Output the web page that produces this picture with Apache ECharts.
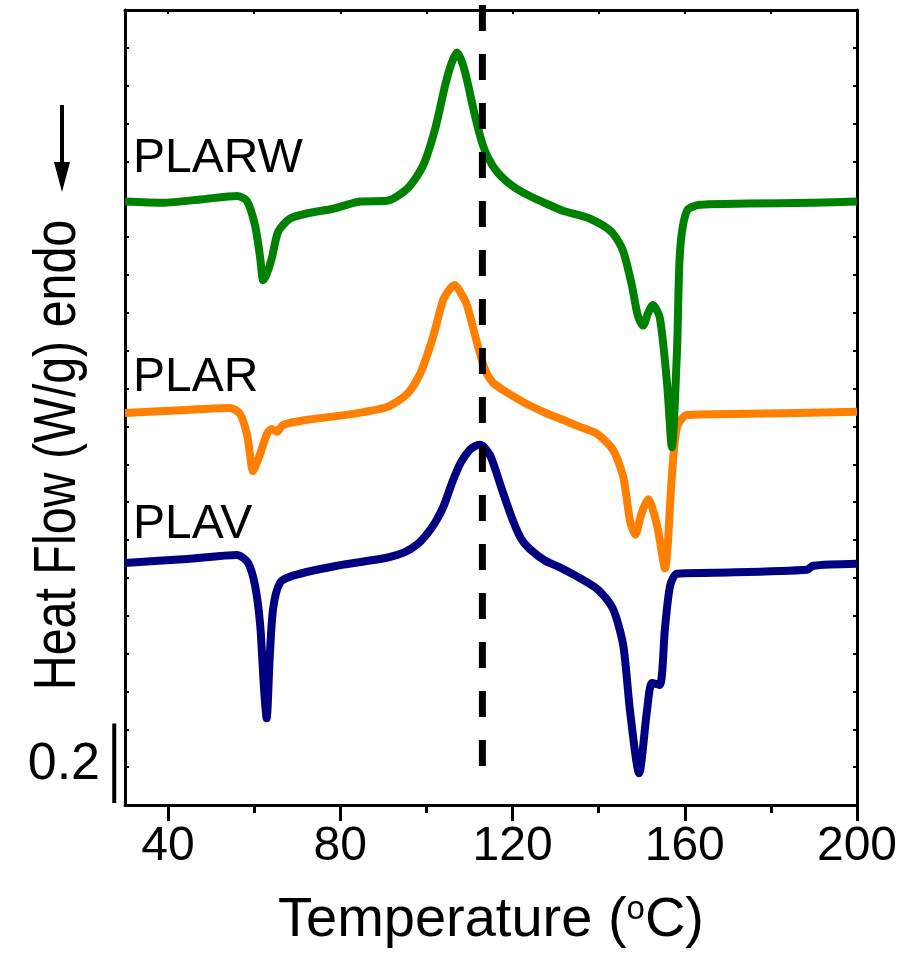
<!DOCTYPE html>
<html>
<head>
<meta charset="utf-8">
<title>DSC heating curves</title>
<script src="https://cdn.jsdelivr.net/npm/echarts@6/dist/echarts.min.js"></script>
<style>
  html, body { margin: 0; padding: 0; background: #fff; }
  #chart { width: 902px; height: 954px; }
</style>
</head>
<body>
<div id="chart"></div>
<script>
// Temperature (ºC) and heat flow (W/g, curves stacked with offsets) for each sample
const plarwTemp = [30, 38.8, 48, 56, 58.3, 60.2, 61.4, 62.1, 63.0, 64.1, 65.6, 68.3, 72.2, 78.3, 84.6, 90.8, 95.5, 99.2, 102, 104.3, 105.8, 107.1, 108.3, 109.4, 111.3, 113.1, 114.5, 116.4, 118.5, 121, 124, 128, 131.7, 135, 138, 141, 143.3, 145.7, 147.7, 149.1, 150.3, 151.5, 152.6, 154.2, 155.9, 157, 158.2, 158.9, 160.5, 163.5, 174.4, 189.8, 200];
const plarwFlow = [1.518, 1.515, 1.524, 1.532, 1.520, 1.458, 1.376, 1.320, 1.338, 1.376, 1.443, 1.475, 1.488, 1.500, 1.518, 1.520, 1.550, 1.608, 1.700, 1.808, 1.865, 1.893, 1.868, 1.825, 1.733, 1.660, 1.625, 1.593, 1.570, 1.550, 1.532, 1.512, 1.495, 1.485, 1.475, 1.458, 1.438, 1.393, 1.308, 1.231, 1.206, 1.238, 1.258, 1.226, 1.059, 0.900, 1.144, 1.393, 1.495, 1.510, 1.513, 1.515, 1.518];

const plarTemp = [30, 44.4, 54.4, 56.7, 58.3, 59.0, 59.7, 60.5, 61.4, 63, 64.1, 65.3, 66.7, 72.3, 83, 90.8, 95.5, 98.5, 101.5, 103.8, 105.3, 106.6, 108, 109.4, 111.7, 113, 114, 115.5, 117.8, 121.3, 124, 128, 131.7, 135.5, 139.6, 143.3, 145.7, 147.3, 148.5, 150, 151.5, 153.6, 155.4, 157, 158.2, 160.5, 174.4, 200];
const plarFlow = [0.986, 0.994, 0.999, 0.984, 0.934, 0.884, 0.840, 0.858, 0.884, 0.934, 0.946, 0.939, 0.956, 0.969, 0.984, 1.001, 1.034, 1.084, 1.176, 1.268, 1.296, 1.308, 1.288, 1.258, 1.165, 1.115, 1.086, 1.062, 1.044, 1.021, 1.005, 0.985, 0.969, 0.952, 0.934, 0.894, 0.826, 0.714, 0.680, 0.735, 0.769, 0.702, 0.595, 0.826, 0.951, 0.981, 0.984, 0.989];

const plavTemp = [30, 44.4, 56, 58.6, 60.2, 61.4, 62.3, 62.9, 63.6, 64.4, 66, 69, 79.2, 90.8, 95, 98, 100, 102, 104, 106, 108, 110, 111.3, 112.4, 113.4, 115, 117.5, 120, 122, 124, 127.5, 131.7, 139.6, 143.3, 145.7, 147.3, 149.4, 151.2, 152.4, 154.2, 155.4, 156.6, 158.2, 166.6, 188.4, 189.8, 200];
const plavFlow = [0.609, 0.619, 0.629, 0.609, 0.552, 0.452, 0.290, 0.218, 0.370, 0.494, 0.559, 0.577, 0.602, 0.622, 0.636, 0.657, 0.680, 0.710, 0.752, 0.812, 0.862, 0.893, 0.903, 0.906, 0.900, 0.875, 0.795, 0.718, 0.670, 0.644, 0.615, 0.594, 0.544, 0.494, 0.402, 0.235, 0.080, 0.235, 0.307, 0.302, 0.444, 0.552, 0.582, 0.584, 0.592, 0.602, 0.607];

// Reference temperature marked by the dashed line, and the heat-flow scale bar
const refTemp = 113;
const refSpan = [2.0125, 0.097];
const scaleBarTemp = 27.5;
const scaleBarFrom = 0.005;
const scaleBarSize = 0.2;

const xMajorTicks = [40, 80, 120, 160, 200];
const xMinorTicks = [60, 100, 140, 180];
const xTopTicks = [40, 60, 80, 100, 120, 140, 160, 180];

const FONT = "'Liberation Sans', Arial, sans-serif";
const zip = (xs, ys) => xs.map((x, i) => [x, ys[i]]);

const chart = echarts.init(document.getElementById('chart'), null, { renderer: 'canvas' });

const curve = (name, temps, flows, color, z) => ({
  name, type: 'line', data: zip(temps, flows), showSymbol: false, symbol: 'none',
  smooth: 0.25, z, silent: true,
  lineStyle: { color, width: 8, join: 'miter', miterLimit: 6 }
});

chart.setOption({
  animation: false,
  backgroundColor: '#ffffff',
  grid: { left: 125, right: 45, top: 10, bottom: 143, containLabel: false },
  xAxis: [
    {
      type: 'value', position: 'bottom', min: 30, max: 200,
      name: 'Temperature ({sup|o}C)', nameLocation: 'middle', nameGap: 88,
      nameTextStyle: {
        fontFamily: FONT, fontSize: 56, color: '#000',
        rich: { sup: { fontFamily: FONT, fontSize: 33, color: '#000', verticalAlign: 'top' } }
      },
      axisLine: { onZero: false, lineStyle: { color: '#000', width: 3 } },
      axisTick: { customValues: xMajorTicks, length: 16, lineStyle: { color: '#000', width: 3 } },
      axisLabel: { customValues: xMajorTicks, fontFamily: FONT, fontSize: 48, color: '#000', margin: 18 },
      splitLine: { show: false }
    },
    {
      type: 'value', position: 'bottom', min: 30, max: 200,
      axisLine: { show: false },
      axisTick: { customValues: xMinorTicks, length: 8, lineStyle: { color: '#000', width: 3 } },
      axisLabel: { show: false }, splitLine: { show: false }
    },
    {
      type: 'value', position: 'top', min: 30, max: 200,
      axisLine: { onZero: false, lineStyle: { color: '#000', width: 3 } },
      axisTick: { customValues: xTopTicks, inside: true, length: 4, lineStyle: { color: '#000', width: 2 } },
      axisLabel: { show: false }, splitLine: { show: false }
    }
  ],
  yAxis: [
    {
      type: 'value', position: 'left', min: 0, max: 2, interval: 2 / 21,
      axisLine: { onZero: false, lineStyle: { color: '#000', width: 3 } },
      axisTick: { inside: true, length: 4, lineStyle: { color: '#000', width: 2 } },
      axisLabel: { show: false }, splitLine: { show: false }
    },
    {
      type: 'value', position: 'right', min: 0, max: 2, interval: 2 / 21,
      axisLine: { onZero: false, lineStyle: { color: '#000', width: 3 } },
      axisTick: { inside: true, length: 4, lineStyle: { color: '#000', width: 2 } },
      axisLabel: { show: false }, splitLine: { show: false }
    }
  ],
  series: [
    curve('PLAV', plavTemp, plavFlow, '#000080', 2),
    curve('PLAR', plarTemp, plarFlow, '#ff8000', 3),
    curve('PLARW', plarwTemp, plarwFlow, '#008000', 4),
    {
      name: 'reference', type: 'line', silent: true, symbol: 'none', clip: false, z: 5,
      data: [[refTemp, refSpan[0]], [refTemp, refSpan[1]]],
      lineStyle: { color: '#000', width: 7, type: [26, 23], cap: 'butt' }
    },
    {
      // vertical scale bar left of the axis, spanning scaleBarSize in heat flow
      name: 'scale', type: 'custom', silent: true, clip: false, z: 5,
      data: [[scaleBarTemp, scaleBarFrom, scaleBarFrom + scaleBarSize]],
      renderItem: (params, api) => {
        const p0 = api.coord([api.value(0), api.value(1)]);
        const p1 = api.coord([api.value(0), api.value(2)]);
        return {
          type: 'line',
          shape: { x1: p0[0], y1: p0[1], x2: p1[0], y2: p1[1] },
          style: { stroke: '#000', lineWidth: 4, lineCap: 'butt' }
        };
      }
    }
  ],
  graphic: [
    { type: 'text', x: 133, y: 159, style: { text: 'PLARW', fontFamily: FONT, fontSize: 48, fill: '#000', align: 'left', verticalAlign: 'middle' } },
    { type: 'text', x: 133, y: 378, style: { text: 'PLAR', fontFamily: FONT, fontSize: 48, fill: '#000', align: 'left', verticalAlign: 'middle' } },
    { type: 'text', x: 133, y: 525, style: { text: 'PLAV', fontFamily: FONT, fontSize: 48, fill: '#000', align: 'left', verticalAlign: 'middle' } },
    { type: 'text', x: 100, y: 765, style: { text: '0.2', fontFamily: FONT, fontSize: 52, fill: '#000', align: 'right', verticalAlign: 'middle' } },
    {
      type: 'text', x: 59, y: 455, rotation: Math.PI / 2, scaleX: 0.82,
      style: { text: 'Heat Flow (W/g) endo', fontFamily: FONT, fontSize: 59, fill: '#000', align: 'center', verticalAlign: 'middle' }
    },
    {
      type: 'group', children: [
        { type: 'line', shape: { x1: 62, y1: 105, x2: 62, y2: 166 }, style: { stroke: '#000', lineWidth: 4 } },
        { type: 'polygon', shape: { points: [[54, 162], [70, 162], [62, 192]] }, style: { fill: '#000' } }
      ]
    }
  ]
});
</script>
</body>
</html>
